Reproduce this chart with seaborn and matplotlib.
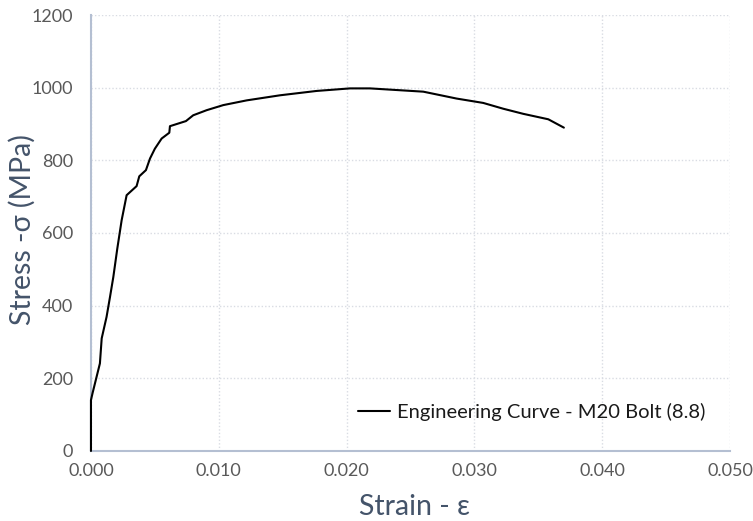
import numpy as np
import pandas as pd
import seaborn as sns
import matplotlib.pyplot as plt

# Stress-strain readings for the M20 bolt (8.8)
strain = [0.0, 0.0, 0.00013, 0.0007, 0.00084, 0.00122, 0.00149, 0.00175, 0.00206,
          0.0024, 0.00279, 0.00357, 0.00378, 0.0043, 0.00462, 0.005, 0.00553,
          0.00613, 0.00618, 0.00743, 0.008, 0.00905, 0.01035, 0.01218, 0.01479,
          0.01766, 0.02027, 0.02183, 0.026, 0.02861, 0.03069, 0.03226, 0.03382,
          0.03578, 0.037]
stress = [0, 140, 160, 241, 310, 369, 424, 479, 557,
          635, 704, 729, 756, 773, 805, 832, 860,
          876, 894, 908, 924, 938, 952, 965, 979,
          991, 998, 998, 989, 970, 958, 942, 928,
          913, 890]
series_name = "Engineering Curve - M20 Bolt (8.8)"

x_ticks = [0.0, 0.01, 0.02, 0.03, 0.04, 0.05]
y_ticks = [0, 200, 400, 600, 800, 1000, 1200]

df = pd.DataFrame({"strain": strain, "stress": stress})

sns.set_style("white")
plt.rcParams["font.family"] = ["Lato", "DejaVu Sans"]

fig = plt.figure(figsize=(7.53, 5.21), dpi=100)
ax = fig.add_axes([0.1208, 0.1344, 0.8487, 0.8368])

sns.lineplot(data=df, x="strain", y="stress", ax=ax, color="black",
             linewidth=1.5, sort=False, estimator=None, label=series_name)
for ln in ax.get_lines():
    ln.set_clip_on(False)
    ln.set_zorder(5)

ax.set_xlim(0, 0.05)
ax.set_ylim(0, 1200)
ax.set_xticks(x_ticks)
ax.set_yticks(y_ticks)
ax.set_xticklabels([f"{v:.3f}" for v in x_ticks])
ax.set_yticklabels([str(v) for v in y_ticks])

ax.grid(True, color="#d9dce3", linestyle=(0, (1, 1.5)), linewidth=1)
ax.tick_params(length=0, labelsize=13, colors="#595959")
ax.tick_params(axis="y", pad=13)
ax.tick_params(axis="x", pad=9)

for side in ["top", "right"]:
    ax.spines[side].set_visible(False)
for side in ["left", "bottom"]:
    ax.spines[side].set_color("#b4bfd2")
    ax.spines[side].set_linewidth(1.5)

ax.set_xlabel("Strain - ε", fontsize=20.5, color="#44546a")
ax.set_ylabel("Stress -σ (MPa)", fontsize=20.5, color="#44546a")
ax.xaxis.set_label_coords(0.507, -0.128)
ax.yaxis.set_label_coords(-0.108, 0.507)
ax.xaxis.label.set_va("center")
ax.yaxis.label.set_va("center")

leg = ax.legend(loc="center right", bbox_to_anchor=(0.99, 0.09), frameon=False,
                fontsize=14.5, handlelength=1.6, handletextpad=0.35)
for t in leg.get_texts():
    t.set_color("#1a1a1a")

fig.savefig("out.png", dpi=100)
